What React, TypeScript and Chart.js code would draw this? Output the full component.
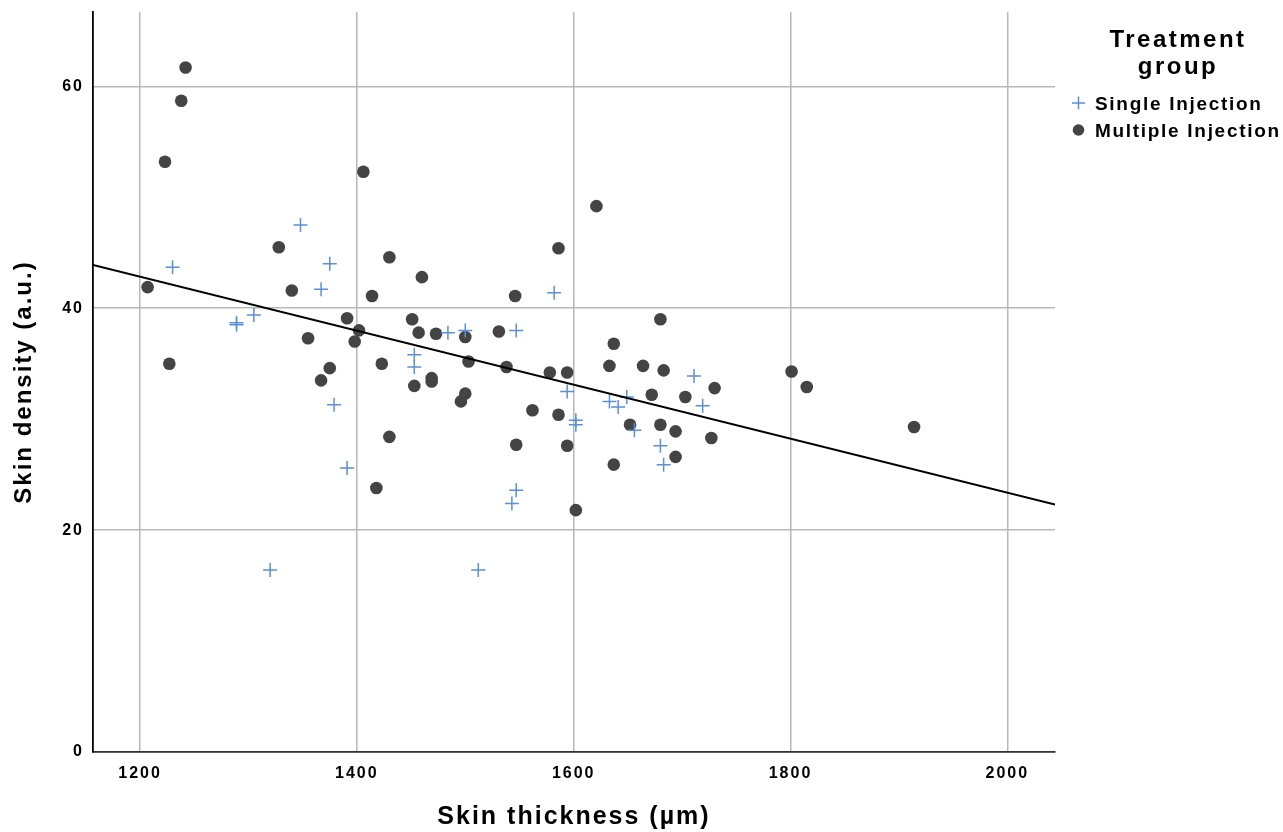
import React, { useEffect, useRef } from "react";
import { Chart, registerables } from "chart.js";

Chart.register(...registerables);

// ---- data ----
const singleX = [1230, 1289, 1289, 1305, 1320, 1348, 1367, 1375, 1379, 1391, 1453, 1453, 1484, 1500, 1512, 1543, 1547, 1547, 1582, 1594, 1602, 1602, 1633, 1641, 1649, 1656, 1680, 1683, 1711, 1719];
const singleY = [43.7, 38.7, 38.5, 39.4, 16.4, 47.5, 41.7, 44.0, 31.3, 25.6, 35.8, 34.7, 37.8, 38.0, 16.4, 22.4, 23.6, 38.0, 41.4, 32.5, 29.9, 29.5, 31.6, 31.1, 32.0, 29.0, 27.6, 25.9, 33.9, 31.2];

const multipleX = [1207, 1223, 1227, 1238, 1242, 1328, 1340, 1355, 1367, 1375, 1391, 1398, 1402, 1406, 1414, 1418, 1423, 1430, 1430, 1451, 1453, 1457, 1460, 1469, 1469, 1473, 1496, 1500, 1500, 1503, 1531, 1538, 1546, 1547, 1562, 1578, 1586, 1586, 1594, 1594, 1602, 1621, 1633, 1637, 1637, 1652, 1664, 1672, 1680, 1680, 1683, 1694, 1694, 1703, 1727, 1730, 1801, 1815, 1914];
const multipleY = [41.9, 53.2, 35.0, 58.7, 61.7, 45.5, 41.6, 37.3, 33.5, 34.6, 39.1, 37.0, 38.0, 52.3, 41.1, 23.8, 35.0, 44.6, 28.4, 39.0, 33.0, 37.8, 42.8, 33.7, 33.4, 37.7, 31.6, 37.4, 32.3, 35.2, 37.9, 34.7, 41.1, 27.7, 30.8, 34.2, 45.4, 30.4, 34.2, 27.6, 21.8, 49.2, 34.8, 36.8, 25.9, 29.5, 34.8, 32.2, 39.0, 29.5, 34.4, 28.9, 26.6, 32.0, 28.3, 32.8, 34.3, 32.9, 29.3];

// fit line end points (at the axis bounds)
const fitX = [1156.6, 2044];
const fitY = [43.9, 22.3];

const xTicks = [1200, 1400, 1600, 1800, 2000];
const yTicks = [0, 20, 40, 60];
const xRange = [1156.6, 2044];
const yRange = [0, 66.7];

const xTitle = "Skin thickness (µm)";
const yTitle = "Skin density (a.u.)";
const legendTitle = ["Treatment", "group"];
const seriesNames = ["Single Injection", "Multiple Injection"];

const BLUE = "#5b8fd7";
const DARK = "#444444";
const FONT = '"Liberation Sans", Arial, Helvetica, sans-serif';

const spacingPlugin = {
  id: "spacing",
  beforeDraw(chart: any) {
    (chart.ctx as any).letterSpacing = "2px";
  },
};

const legendPlugin = {
  id: "customLegend",
  afterDraw(chart: any) {
    const ctx = chart.ctx as CanvasRenderingContext2D;
    const right = chart.chartArea.right;
    const top = chart.chartArea.top;
    ctx.save();
    (ctx as any).letterSpacing = "2.5px";
    ctx.fillStyle = "#000";
    ctx.textAlign = "center";
    ctx.textBaseline = "alphabetic";
    ctx.font = `bold 24px ${FONT}`;
    legendTitle.forEach((t, i) => ctx.fillText(t, right + 123, top + 35 + i * 26.5));

    (ctx as any).letterSpacing = "1.7px";
    ctx.textAlign = "left";
    ctx.font = `bold 19px ${FONT}`;
    const mx = right + 23.5;
    // single: cross
    const y1 = top + 91;
    ctx.strokeStyle = BLUE;
    ctx.lineWidth = 1.5;
    ctx.beginPath();
    ctx.moveTo(mx - 6.5, y1);
    ctx.lineTo(mx + 6.5, y1);
    ctx.moveTo(mx, y1 - 6.5);
    ctx.lineTo(mx, y1 + 6.5);
    ctx.stroke();
    ctx.fillText(seriesNames[0], right + 40, y1 + 7);
    // multiple: circle
    const y2 = top + 118;
    ctx.fillStyle = DARK;
    ctx.beginPath();
    ctx.arc(mx, y2, 5.8, 0, Math.PI * 2);
    ctx.fill();
    ctx.fillStyle = "#000";
    ctx.fillText(seriesNames[1], right + 40, y2 + 7);
    ctx.restore();
  },
};

export default function App() {
  const ref = useRef<HTMLCanvasElement | null>(null);

  useEffect(() => {
    if (!ref.current) return;
    const singleData = singleX.map((x, i) => ({ x, y: singleY[i] }));
    const multipleData = multipleX.map((x, i) => ({ x, y: multipleY[i] }));
    const fitData = fitX.map((x, i) => ({ x, y: fitY[i] }));

    const chart = new Chart(ref.current, {
      type: "scatter",
      data: {
        datasets: [
          {
            type: "line",
            label: "fit",
            data: fitData,
            borderColor: "#000",
            borderWidth: 2,
            pointRadius: 0,
            showLine: true,
            fill: false,
            order: 0,
          } as any,
          {
            label: seriesNames[0],
            data: singleData,
            pointStyle: "cross",
            pointRadius: 7,
            borderColor: BLUE,
            backgroundColor: BLUE,
            borderWidth: 1.5,
            order: 1,
          },
          {
            label: seriesNames[1],
            data: multipleData,
            pointStyle: "circle",
            pointRadius: 6.3,
            backgroundColor: DARK,
            borderColor: DARK,
            borderWidth: 0,
            order: 2,
          },
        ],
      },
      options: {
        animation: false,
        responsive: false,
        layout: { padding: { left: 0, top: 12, right: 228, bottom: 0 } },
        plugins: {
          legend: { display: false },
          tooltip: { enabled: false },
        },
        scales: {
          x: {
            type: "linear",
            min: xRange[0],
            max: xRange[1],
            afterBuildTicks: (s: any) => {
              s.ticks = xTicks.map((v) => ({ value: v }));
            },
            afterFit: (s: any) => {
              s.height = 80;
              s.paddingLeft = 0;
              s.paddingRight = 0;
            },
            ticks: {
              padding: 12,
              color: "#000",
              font: { family: FONT, size: 16, weight: "bold", lineHeight: 1.2 },
              maxRotation: 0,
              callback: (v: any) => String(v),
            },
            grid: { color: "#b8b8b8", lineWidth: 1.5, drawTicks: false },
            border: { display: true, color: "#333", width: 1.8 },
            title: {
              display: true,
              text: xTitle,
              color: "#000",
              font: { family: FONT, size: 25, weight: "bold", lineHeight: 1.2 },
              padding: { top: 0, bottom: 0 },
            },
          },
          y: {
            type: "linear",
            min: yRange[0],
            max: yRange[1],
            afterBuildTicks: (s: any) => {
              s.ticks = yTicks.map((v) => ({ value: v }));
            },
            afterFit: (s: any) => {
              s.width = 93;
              s.paddingTop = 0;
              s.paddingBottom = 0;
            },
            ticks: {
              padding: 9,
              color: "#000",
              font: { family: FONT, size: 16, weight: "bold", lineHeight: 1.2 },
              callback: (v: any) => String(v),
            },
            grid: { color: "#b8b8b8", lineWidth: 1.5, drawTicks: false },
            border: { display: true, color: "#000", width: 1.8 },
            title: {
              display: true,
              text: yTitle,
              color: "#000",
              font: { family: FONT, size: 24, weight: "bold", lineHeight: 1.2 },
              padding: { top: 10, bottom: 0 },
            },
          },
        },
      },
      plugins: [spacingPlugin, legendPlugin],
    });
    return () => chart.destroy();
  }, []);

  return (
    <div style={{ position: "absolute", left: 0, top: 0, width: 1283, height: 832 }}>
      <canvas ref={ref} width={1283} height={832} style={{ display: "block", width: 1283, height: 832 }} />
    </div>
  );
}
